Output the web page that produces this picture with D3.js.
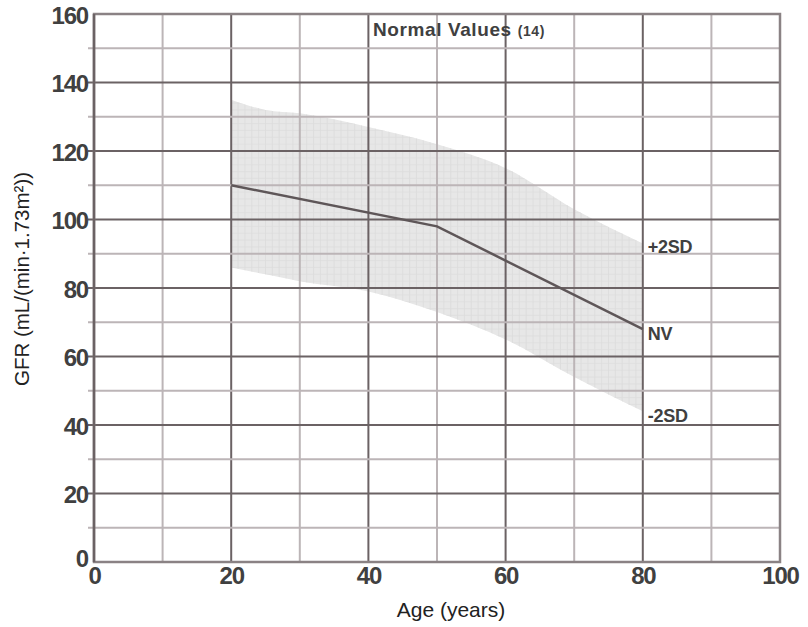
<!DOCTYPE html>
<html>
<head>
<meta charset="utf-8">
<script src="https://cdn.jsdelivr.net/npm/d3@7"></script>
<style>
  body { margin: 0; background: #fff; }
  text { font-family: "Liberation Sans", Arial, sans-serif; }
</style>
</head>
<body>
<svg id="chart" width="808" height="627"></svg>
<script>
// band (mean +/- 2SD) and normal values
const bandAge   = [20, 25, 30, 40, 50, 60, 70, 80];
const bandUpper = [135, 132, 131, 127, 122, 115, 103, 93];
const bandLower = [86, 84, 82, 79, 73, 65, 54, 44];

const nvAge = [20, 50, 80];
const nvGfr = [110, 98, 68];

const xTicks = [0, 20, 40, 60, 80, 100];
const yTicks = [0, 20, 40, 60, 80, 100, 120, 140, 160];

const svg = d3.select("#chart");

const x = d3.scaleLinear().domain([0, 100]).range([94, 780]);
const y = d3.scaleLinear().domain([0, 160]).range([562, 14]);

const dark = "#6b6264";
const light = "#bcb5b7";

// shaded band
const bandData = bandAge.map((a, i) => ({ a, lo: bandLower[i], hi: bandUpper[i] }));
const area = d3.area()
  .x(d => x(d.a))
  .y0(d => y(d.lo))
  .y1(d => y(d.hi))
  .curve(d3.curveMonotoneX);

svg.append("clipPath").attr("id", "bandClip")
  .append("path").datum(bandData).attr("d", area);

svg.append("path")
  .datum(bandData)
  .attr("fill", "#e7e7e7")
  .attr("d", area);

// fine screen texture inside the band
const tex = svg.append("g").attr("clip-path", "url(#bandClip)");
tex.selectAll("line.tv")
  .data(d3.range(20, 81, 1))
  .enter().append("line")
  .attr("x1", d => x(d)).attr("x2", d => x(d))
  .attr("y1", y(160)).attr("y2", y(0))
  .attr("stroke", "#dadada").attr("stroke-width", 0.7);
tex.selectAll("line.th")
  .data(d3.range(0, 161, 2))
  .enter().append("line")
  .attr("x1", x(0)).attr("x2", x(100))
  .attr("y1", d => y(d)).attr("y2", d => y(d))
  .attr("stroke", "#dddddd").attr("stroke-width", 0.7);

// grid
const grid = svg.append("g");
grid.selectAll("line.gv")
  .data(d3.range(10, 100, 10))
  .enter().append("line")
  .attr("x1", d => x(d)).attr("x2", d => x(d))
  .attr("y1", y(160)).attr("y2", y(0))
  .attr("stroke", d => d % 20 === 0 ? dark : light)
  .attr("stroke-width", 2);
grid.selectAll("line.gh")
  .data(d3.range(10, 160, 10))
  .enter().append("line")
  .attr("x1", x(0) - 6).attr("x2", x(100))
  .attr("y1", d => y(d)).attr("y2", d => y(d))
  .attr("stroke", d => d % 20 === 0 ? dark : light)
  .attr("stroke-width", 2);

// frame
svg.append("rect")
  .attr("x", x(0)).attr("y", y(160))
  .attr("width", x(100) - x(0)).attr("height", y(0) - y(160))
  .attr("fill", "none")
  .attr("stroke", "#8a8284")
  .attr("stroke-width", 2.5);
svg.append("line")
  .attr("x1", x(0)).attr("x2", x(0))
  .attr("y1", y(160)).attr("y2", y(0))
  .attr("stroke", dark).attr("stroke-width", 2.5);

// NV line
const line = d3.line().x((d, i) => x(nvAge[i])).y(d => y(d));
svg.append("path")
  .datum(nvGfr)
  .attr("fill", "none")
  .attr("stroke", "#5e5658")
  .attr("stroke-width", 2.5)
  .attr("d", line);

// axes
const yAxis = d3.axisLeft(y).tickValues(yTicks).tickSize(0).tickPadding(6);
const gy = svg.append("g").attr("transform", `translate(${x(0)},0)`).call(yAxis);
gy.select(".domain").remove();
gy.selectAll("text")
  .attr("font-size", 24).attr("font-weight", "bold")
  .attr("letter-spacing", -1.2).attr("fill", "#404040")
  .attr("font-family", "'Liberation Sans', Arial, sans-serif")
  .attr("dy", d => d === 0 ? "0.2em" : "0.38em");

const xAxis = d3.axisBottom(x).tickValues(xTicks).tickSize(0).tickPadding(6);
const gx = svg.append("g").attr("transform", `translate(0,${y(0)})`).call(xAxis);
gx.select(".domain").remove();
gx.selectAll("text")
  .attr("font-size", 24).attr("font-weight", "bold")
  .attr("letter-spacing", -1.2).attr("fill", "#404040")
  .attr("font-family", "'Liberation Sans', Arial, sans-serif")
  .attr("dy", "0.68em");

// titles
svg.append("text")
  .attr("x", 451).attr("y", 617)
  .attr("text-anchor", "middle")
  .attr("font-size", 21).attr("fill", "#222")
  .text("Age (years)");

svg.append("text")
  .attr("transform", "translate(29,279) rotate(-90)")
  .attr("text-anchor", "middle")
  .attr("font-size", 20.5).attr("fill", "#222")
  .text("GFR (mL/(min·1.73m²))");

const head = svg.append("text")
  .attr("x", 373).attr("y", 36)
  .attr("font-size", 19).attr("font-weight", "bold")
  .attr("fill", "#404040").attr("letter-spacing", 0.6);
head.append("tspan").text("Normal Values ");
head.append("tspan").attr("font-size", 14).text("(14)");

// series labels at age 80
const last = bandAge.length - 1;
const labels = [
  { t: "+2SD", v: bandUpper[last], dy: 10 },
  { t: "NV", v: nvGfr[nvGfr.length - 1], dy: 11 },
  { t: "-2SD", v: bandLower[last], dy: 11 }
];
svg.selectAll("text.lab")
  .data(labels)
  .enter().append("text")
  .attr("x", x(80) + 5)
  .attr("y", d => y(d.v) + d.dy)
  .attr("font-size", 18).attr("font-weight", "bold")
  .attr("fill", "#404040").attr("letter-spacing", -0.3)
  .text(d => d.t);
</script>
</body>
</html>
